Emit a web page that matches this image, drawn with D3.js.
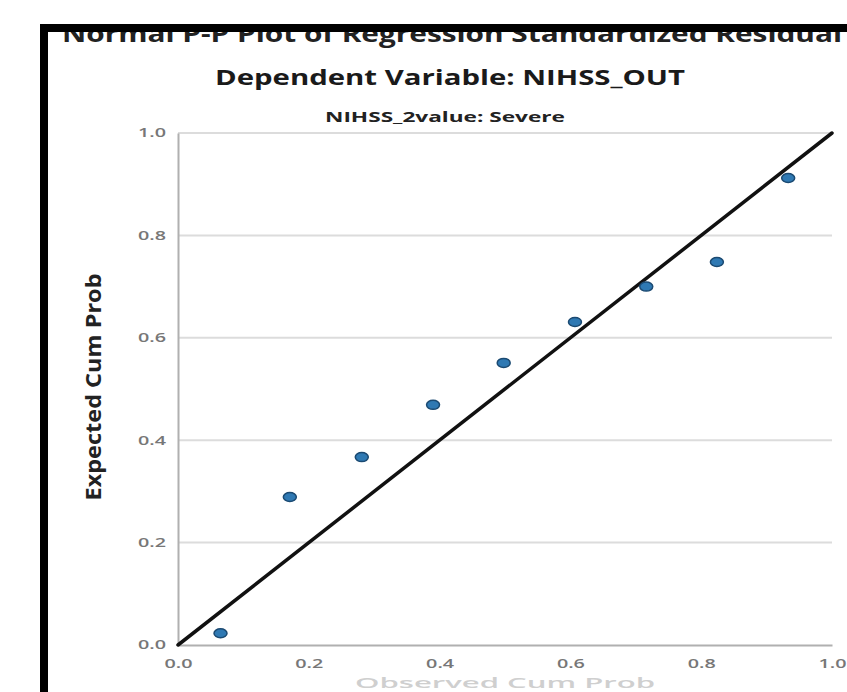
<!DOCTYPE html>
<html>
<head>
<meta charset="utf-8">
<script src="https://cdn.jsdelivr.net/npm/d3@7"></script>
<style>
  body { margin: 0; background: #fff; }
  svg { display: block; }
</style>
</head>
<body>
<svg id="chart" width="847" height="692"></svg>
<script>
// observed vs expected cumulative probability
let observed = [0.065, 0.171, 0.281, 0.390, 0.498, 0.607, 0.716, 0.824, 0.933];
let expected = [0.023, 0.289, 0.367, 0.469, 0.551, 0.631, 0.700, 0.748, 0.912];
let tickValues = [0, 0.2, 0.4, 0.6, 0.8, 1.0];
let titles = ["Normal P-P Plot of Regression Standardized Residual",
              "Dependent Variable: NIHSS_OUT",
              "NIHSS_2value: Severe"];

function drawPPPlot() {
    let svg = d3.select("#chart");
    let font = "'Open Sans', 'Noto Sans', sans-serif";

    let xScale = d3.scaleLinear().domain([0, 1]).range([178, 832]);
    let yScale = d3.scaleLinear().domain([0, 1]).range([645, 133]);

    // gridlines
    svg.append("g")
      .selectAll("line")
      .data(tickValues.filter(d => d > 0))
      .enter()
      .append("line")
      .attr("x1", xScale(0))
      .attr("x2", xScale(1))
      .attr("y1", d => yScale(d))
      .attr("y2", d => yScale(d))
      .style("stroke", "#dcdcdc")
      .style("stroke-width", "2px");

    // axes
    let xAxis = d3.axisBottom(xScale).tickValues(tickValues).tickFormat(d3.format(".1f")).tickSize(0).tickPadding(12);
    let gX = svg.append("g").attr("transform", `translate(0,${yScale(0)})`).call(xAxis);
    let yAxis = d3.axisLeft(yScale).tickValues(tickValues).tickFormat(d3.format(".1f")).tickSize(0).tickPadding(12);
    let gY = svg.append("g").attr("transform", `translate(${xScale(0)},0)`).call(yAxis);

    [gX, gY].forEach(g => {
        g.select(".domain").style("stroke", "#b0b0b0").style("stroke-width", "2px");
        g.selectAll("text")
          .style("font-family", font)
          .style("font-size", "12px")
          .style("font-weight", "600")
          .style("fill", "#777")
          .attr("textLength", 28)
          .attr("lengthAdjust", "spacingAndGlyphs");
    });
    gX.selectAll("text").attr("dy", "0.9em");

    // reference diagonal
    svg.append("line")
      .attr("x1", xScale(0))
      .attr("y1", yScale(0))
      .attr("x2", xScale(1))
      .attr("y2", yScale(1))
      .style("stroke", "#111")
      .style("stroke-width", "3.5px")
      .style("stroke-linecap", "round");

    // points
    let points = observed.map((d, i) => ({x: d, y: expected[i]}));
    svg.append("g")
      .selectAll("ellipse")
      .data(points)
      .enter()
      .append("ellipse")
      .attr("cx", d => xScale(d.x))
      .attr("cy", d => yScale(d.y))
      .attr("rx", 6.5)
      .attr("ry", 4.5)
      .style("fill", "#2f79b3")
      .style("stroke", "#1b4a72")
      .style("stroke-width", "1.5px");

    // axis titles
    svg.append("text")
      .attr("transform", "translate(101,387) rotate(-90)")
      .attr("text-anchor", "middle")
      .attr("textLength", 227)
      .attr("lengthAdjust", "spacingAndGlyphs")
      .style("font-family", font)
      .style("font-size", "21px")
      .style("font-weight", "700")
      .style("fill", "#222")
      .text("Expected Cum Prob");

    svg.append("text")
      .attr("x", 505)
      .attr("y", 688)
      .attr("text-anchor", "middle")
      .attr("textLength", 300)
      .attr("lengthAdjust", "spacingAndGlyphs")
      .style("font-family", font)
      .style("font-size", "14px")
      .style("font-weight", "600")
      .style("fill", "#cfcfcf")
      .text("Observed Cum Prob");

    // titles
    svg.append("text")
      .attr("x", 62)
      .attr("y", 42)
      .attr("textLength", 780)
      .attr("lengthAdjust", "spacingAndGlyphs")
      .style("font-family", font)
      .style("font-size", "24px")
      .style("font-weight", "700")
      .style("fill", "#222")
      .text(titles[0]);

    svg.append("text")
      .attr("x", 450)
      .attr("y", 85)
      .attr("text-anchor", "middle")
      .attr("textLength", 470)
      .attr("lengthAdjust", "spacingAndGlyphs")
      .style("font-family", font)
      .style("font-size", "22px")
      .style("font-weight", "700")
      .style("fill", "#1a1a1a")
      .text(titles[1]);

    svg.append("text")
      .attr("x", 445)
      .attr("y", 122)
      .attr("text-anchor", "middle")
      .attr("textLength", 240)
      .attr("lengthAdjust", "spacingAndGlyphs")
      .style("font-family", font)
      .style("font-size", "14px")
      .style("font-weight", "700")
      .style("fill", "#222")
      .text(titles[2]);

    // black frame drawn over the clipped title
    svg.append("rect").attr("x", 40).attr("y", 24).attr("width", 807).attr("height", 8).style("fill", "#000");
    svg.append("rect").attr("x", 40).attr("y", 24).attr("width", 8).attr("height", 668).style("fill", "#000");
}

drawPPPlot();
</script>
</body>
</html>
